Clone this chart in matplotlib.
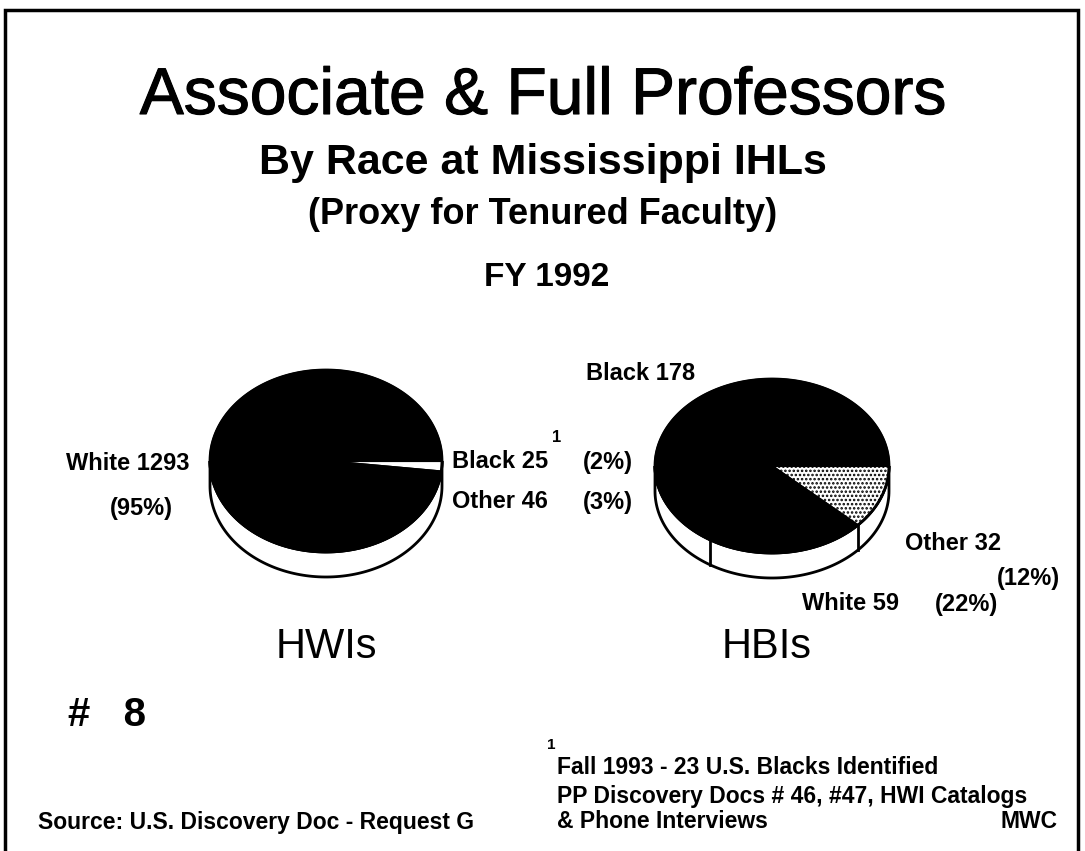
import matplotlib
matplotlib.use("Agg")
import matplotlib.pyplot as plt
import matplotlib.patheffects as pe
import numpy as np
from matplotlib.patches import Polygon

# data
races = ["White", "Black", "Other"]
hwi_counts = [1293, 25, 46]
hbi_counts = [59, 178, 32]

# slice order going clockwise from 3 o'clock
hwi_order = ["Black", "Other", "White"]
hbi_order = ["Other", "White", "Black"]

plt.rcParams["font.family"] = ["Liberation Sans", "DejaVu Sans"]
plt.rcParams["hatch.linewidth"] = 1.2


def pct(counts, name):
    return int(round(100.0 * counts[races.index(name)] / sum(counts)))


def arc(cx, cy, rx, ry, t1, t2, n=120):
    t = np.radians(np.linspace(t1, t2, n))
    return np.column_stack([cx + rx * np.cos(t), cy - ry * np.sin(t)])


def pie3d(ax, counts, order, cx, cy, rx, ry, depth, faces, hatches, start=0.0):
    vals = np.array([counts[races.index(r)] for r in order], dtype=float)
    frac = vals / vals.sum()
    edges = start - 360.0 * np.concatenate([[0], np.cumsum(frac)])

    # side wall (front half only)
    top = arc(cx, cy, rx, ry, 180, 360)
    bot = top + [0, depth]
    ax.add_patch(Polygon(np.vstack([top, bot[::-1]]), closed=True,
                         facecolor="white", edgecolor="black", lw=2.0, zorder=1))
    for e in edges[1:-1]:
        a = e % 360
        if 200 < a < 340:
            x, y = arc(cx, cy, rx, ry, a, a, 1)[0]
            ax.plot([x, x], [y, y + depth], color="black", lw=2.0, zorder=1.5)

    # top face
    for i in range(len(order)):
        pts = np.vstack([[cx, cy], arc(cx, cy, rx, ry, edges[i + 1], edges[i])])
        ax.add_patch(Polygon(pts, closed=True, facecolor=faces[i],
                             edgecolor="black", hatch=hatches[i], lw=1.5, zorder=2))
    ax.add_patch(Polygon(arc(cx, cy, rx, ry, 0, 360, 240), closed=True,
                         fill=False, edgecolor="black", lw=2.0, zorder=3))


fig = plt.figure(figsize=(10.85, 8.51), dpi=100)
ax = fig.add_axes([0, 0, 1, 1])
ax.set_xlim(0, 1085)
ax.set_ylim(851, 0)
ax.axis("off")

# frame
ax.plot([5, 5, 1078, 1078], [851, 10, 10, 851], color="black", lw=2.5,
        solid_joinstyle="miter")

heavy = [pe.withStroke(linewidth=0.8, foreground="black")]

ax.text(543, 97, "Associate & Full Professors", fontsize=47.5, ha="center",
        va="center", path_effects=heavy)
ax.text(543, 163, "By Race at Mississippi IHLs", fontsize=31, fontweight="bold",
        ha="center", va="center")
ax.text(543, 214, "(Proxy for Tenured Faculty)", fontsize=26, fontweight="bold",
        ha="center", va="center")
ax.text(547, 278, "FY 1992", fontsize=24, fontweight="bold", ha="center", va="center")

pie3d(ax, hwi_counts, hwi_order, 326, 461, 116, 91, 25,
      ["white", "black", "black"], [None, None, None])
pie3d(ax, hbi_counts, hbi_order, 772, 466, 117, 87, 25,
      ["white", "black", "black"], ["....", None, None])

lab = dict(fontsize=17, fontweight="bold", ha="center", va="center")
ax.text(128, 463, f"White {hwi_counts[0]}", **lab)
ax.text(141, 508, f"({pct(hwi_counts, 'White')}%)", **lab)
ax.text(500, 462, f"Black {hwi_counts[1]}", **lab)
ax.text(557, 437, "1", fontsize=12, fontweight="bold", ha="center", va="center")
ax.text(608, 462, f"({pct(hwi_counts, 'Black')}%)", **lab)
ax.text(500, 502, f"Other {hwi_counts[2]}", **lab)
ax.text(608, 502, f"({pct(hwi_counts, 'Other')}%)", **lab)

ax.text(641, 373, f"Black {hbi_counts[1]}", **lab)
ax.text(953, 543, f"Other {hbi_counts[2]}", **lab)
ax.text(1028, 579, f"({pct(hbi_counts, 'Other')}%)", **lab)
ax.text(851, 604, f"White {hbi_counts[0]}", **lab)
ax.text(966, 604, f"({pct(hbi_counts, 'White')}%)", **lab)

ax.text(326, 647, "HWIs", fontsize=30, ha="center", va="center")
ax.text(767, 647, "HBIs", fontsize=30, ha="center", va="center")

# footer
ax.text(68, 715, "#   8", fontsize=29, fontweight="bold", ha="left", va="center")
ax.text(551, 745, "1", fontsize=11, fontweight="bold", ha="center", va="center")
foot = dict(fontsize=16.5, fontweight="bold", ha="left", va="center")
ax.text(557, 767, "Fall 1993 - 23 U.S. Blacks Identified", **foot)
ax.text(557, 796, "PP Discovery Docs # 46, #47, HWI Catalogs", **foot)
ax.text(557, 821, "& Phone Interviews", **foot)
ax.text(1057, 821, "MWC", fontsize=16.5, fontweight="bold", ha="right", va="center")
ax.text(38, 822, "Source: U.S. Discovery Doc - Request G", **foot)

fig.savefig("out.png", dpi=100, facecolor="white")
